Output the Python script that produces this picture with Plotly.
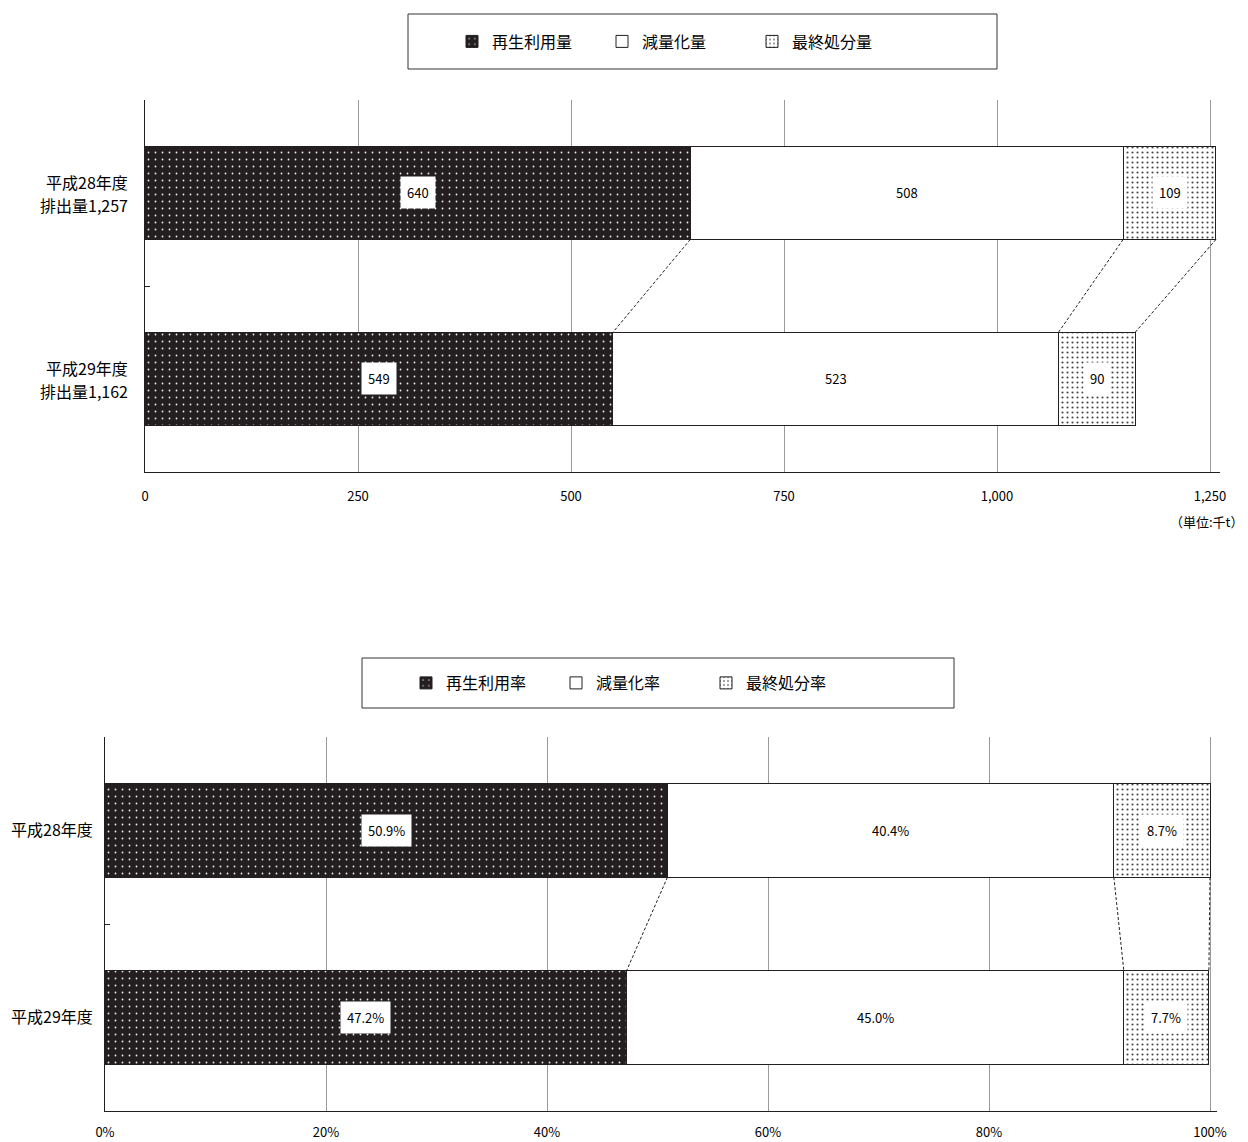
import plotly.graph_objects as go

# ---- data ----
years = ["平成28年度", "平成29年度"]
emissions = [1257, 1162]
recycle_amt = [640, 549]
reduce_amt = [508, 523]
final_amt = [109, 90]
recycle_rate = [50.9, 47.2]
reduce_rate = [40.4, 45.0]
final_rate = [8.7, 7.7]
amount_names = ["再生利用量", "減量化量", "最終処分量"]
rate_names = ["再生利用率", "減量化率", "最終処分率"]
amount_ticks = [0, 250, 500, 750, 1000, 1250]
rate_ticks = [0, 20, 40, 60, 80, 100]

FONT = "Noto Sans CJK JP"
W, H = 1248, 1142
INK = "#231f20"

emission_labels = [f"排出量{e:,}" for e in emissions]

styles = [
    dict(color=INK, pattern=dict(shape=".", bgcolor=INK, fgcolor="#f0f0f0", size=7, solidity=0.05, fillmode="replace")),
    dict(color="white"),
    dict(color="white", pattern=dict(shape=".", bgcolor="white", fgcolor="#444444", size=5, solidity=0.14, fillmode="replace")),
]

fig = go.Figure()

top_series = [recycle_amt, reduce_amt, final_amt]
bot_series = [recycle_rate, reduce_rate, final_rate]

for name, vals, st in zip(amount_names, top_series, styles):
    fig.add_trace(go.Bar(
        y=years, x=vals, orientation="h", name=name, width=0.5,
        marker=dict(**st, line=dict(color=INK, width=1)),
        xaxis="x", yaxis="y", legend="legend", hoverinfo="skip",
    ))

for name, vals, st in zip(rate_names, bot_series, styles):
    fig.add_trace(go.Bar(
        y=years, x=vals, orientation="h", name=name, width=0.5,
        marker=dict(**st, line=dict(color=INK, width=1)),
        xaxis="x2", yaxis="y2", legend="legend2", hoverinfo="skip",
    ))

annotations = []
shapes = []

def add_labels(series, cats, xref, yref, fmt):
    for i, cat in enumerate(cats):
        start = 0
        for k, vals in enumerate(series):
            v = vals[i]
            annotations.append(dict(
                x=start + v / 2, y=cat, xref=xref, yref=yref,
                text=fmt(v), showarrow=False,
                font=dict(family=FONT, size=13, color="black"),
                bgcolor="white" if k != 1 else "rgba(0,0,0,0)",
                borderpad=6,
            ))
            start += v

def add_connectors(series, xref, yref):
    c0 = 0
    c1 = 0
    for vals in series:
        c0 += vals[0]
        c1 += vals[1]
        shapes.append(dict(
            type="line", xref=xref, yref=yref,
            x0=c0, y0=0.25, x1=c1, y1=0.75,
            line=dict(color=INK, width=1, dash="3px,2px"),
        ))

add_labels(top_series, years, "x", "y", lambda v: f"{v:,}")
add_labels(bot_series, years, "x2", "y2", lambda v: f"{v:.1f}%")
add_connectors(top_series, "x", "y")
add_connectors(bot_series, "x2", "y2")

# two-line category labels for the top chart
for yr, em in zip(years, emission_labels):
    for txt, shift in ((yr, 11), (em, -12)):
        annotations.append(dict(
            x=130 / W, xref="paper", y=yr, yref="y", yshift=shift,
            xanchor="right", yanchor="middle", showarrow=False,
            text=txt, font=dict(family=FONT, size=16, color="black"),
        ))

# legend boxes
shapes.append(dict(type="rect", xref="paper", yref="paper",
                   x0=408 / W, x1=997 / W, y0=1 - 69 / H, y1=1 - 14 / H,
                   line=dict(color="#333333", width=1)))
shapes.append(dict(type="rect", xref="paper", yref="paper",
                   x0=362 / W, x1=954 / W, y0=1 - 708 / H, y1=1 - 658 / H,
                   line=dict(color="#333333", width=1)))

annotations.append(dict(
    x=1246 / W, y=1 - 521 / H, xref="paper", yref="paper",
    xanchor="right", yanchor="middle", showarrow=False,
    text="（単位:千t）", font=dict(family=FONT, size=13, color="black"),
))

# top axis geometry: 0 -> px145, 1250 -> px1210
ppu_top = (1210 - 145) / 1250
top_max = 1262
ppu_bot = (1210 - 105) / 100
bot_max = 100.6

axis_common = dict(
    showgrid=True, gridcolor="#9a9a9a", gridwidth=1, zeroline=False,
    showline=True, linecolor=INK, linewidth=1, ticks="",
    tickfont=dict(family=FONT, size=13, color="black"),
    tickmode="array", automargin=False,
)
yaxis_common = dict(
    type="category", autorange=False, range=[1.5, -0.5],
    showline=True, linecolor=INK, linewidth=1,
    ticks="inside", ticklen=5, tickcolor=INK, tickson="boundaries",
    showgrid=False, zeroline=False, automargin=False,
    tickfont=dict(family=FONT, size=16, color="black"),
    ticklabelstandoff=8,
)

fig.update_layout(
    width=W, height=H,
    margin=dict(l=0, r=0, t=0, b=0, autoexpand=False),
    paper_bgcolor="white", plot_bgcolor="white",
    barmode="stack", bargap=0.5,
    font=dict(family=FONT, color="black"),
    xaxis=dict(**axis_common, range=[0, top_max], tickvals=amount_ticks,
               ticktext=[f"{v:,}" for v in amount_ticks], ticklabelstandoff=12,
               domain=[145 / W, (145 + top_max * ppu_top) / W], anchor="y"),
    yaxis=dict(**yaxis_common, showticklabels=False,
               domain=[1 - 472 / H, 1 - 100 / H], anchor="x"),
    xaxis2=dict(**axis_common, range=[0, bot_max], tickvals=rate_ticks,
                ticktext=[f"{v}%" for v in rate_ticks], ticklabelstandoff=9,
                domain=[105 / W, (105 + bot_max * ppu_bot) / W], anchor="y2"),
    yaxis2=dict(**yaxis_common, domain=[1 - 1111 / H, 1 - 737 / H], anchor="x2"),
    legend=dict(orientation="h", x=677 / W, y=1 - 41.5 / H, xanchor="center", yanchor="middle",
                bgcolor="rgba(0,0,0,0)", borderwidth=0, traceorder="normal",
                font=dict(family=FONT, size=16, color="black"),
                entrywidth=105, itemwidth=30),
    legend2=dict(orientation="h", x=631 / W, y=1 - 683 / H, xanchor="center", yanchor="middle",
                 bgcolor="rgba(0,0,0,0)", borderwidth=0, traceorder="normal",
                 font=dict(family=FONT, size=16, color="black"),
                 entrywidth=105, itemwidth=30),
    annotations=annotations,
    shapes=shapes,
)

fig.write_html("out.html",
               config={"displayModeBar": False},
               post_script="document.body.style.margin='0';document.body.style.overflow='hidden';")
